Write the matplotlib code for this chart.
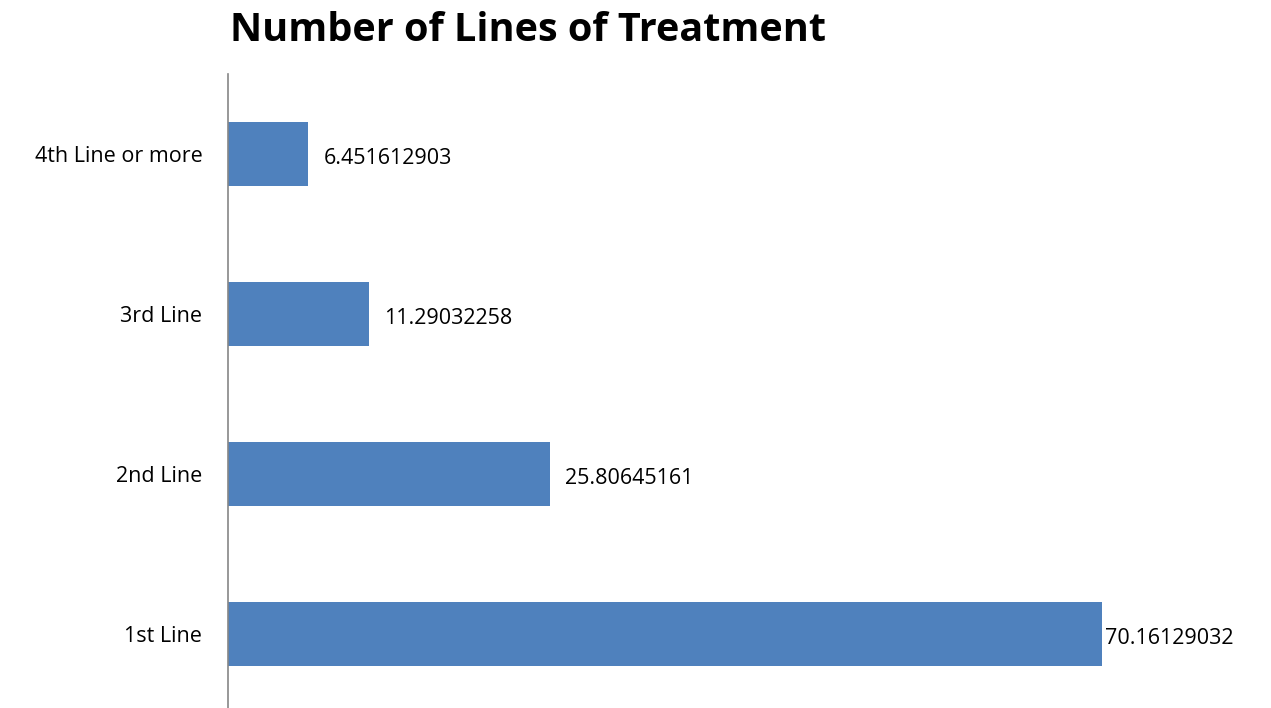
import matplotlib.pyplot as plt

categories = ["1st Line", "2nd Line", "3rd Line", "4th Line or more"]
values = [70.16129032, 25.80645161, 11.29032258, 6.451612903]

plt.rcParams["font.family"] = ["Open Sans", "DejaVu Sans"]

fig = plt.figure(figsize=(12.71, 7.08), dpi=100)
# axes placed in pixel terms: left spine at x=228, top at y=74
ax = fig.add_axes([228 / 1271, 0.0, 1 - 228 / 1271, (708 - 74) / 708])

positions = list(range(len(categories)))
bars = ax.barh(positions, values, height=0.4, color="#4F81BD")

ax.set_ylim(-0.46, 3.5)
ax.set_xlim(0, 83.7)

ax.set_yticks(positions)
ax.set_yticklabels(categories, fontsize=15.5)
ax.tick_params(axis="y", length=0, pad=18.5)
ax.set_xticks([])

for side in ["top", "right", "bottom"]:
    ax.spines[side].set_visible(False)
ax.spines["left"].set_color("#868686")
ax.spines["left"].set_linewidth(1.2)

biggest = max(values)
for bar, value in zip(bars, values):
    pad = 2 if value == biggest else 11
    ax.annotate(
        "{:.10g}".format(value),
        xy=(bar.get_width(), bar.get_y() + bar.get_height() / 2),
        xytext=(pad, -3),
        textcoords="offset points",
        va="center",
        ha="left",
        fontsize=15.5,
    )

fig.text(230 / 1271, 1 - 41 / 708, "Number of Lines of Treatment",
         fontsize=28.5, fontweight="bold", ha="left", va="baseline")

fig.savefig("out.png", dpi=100)
